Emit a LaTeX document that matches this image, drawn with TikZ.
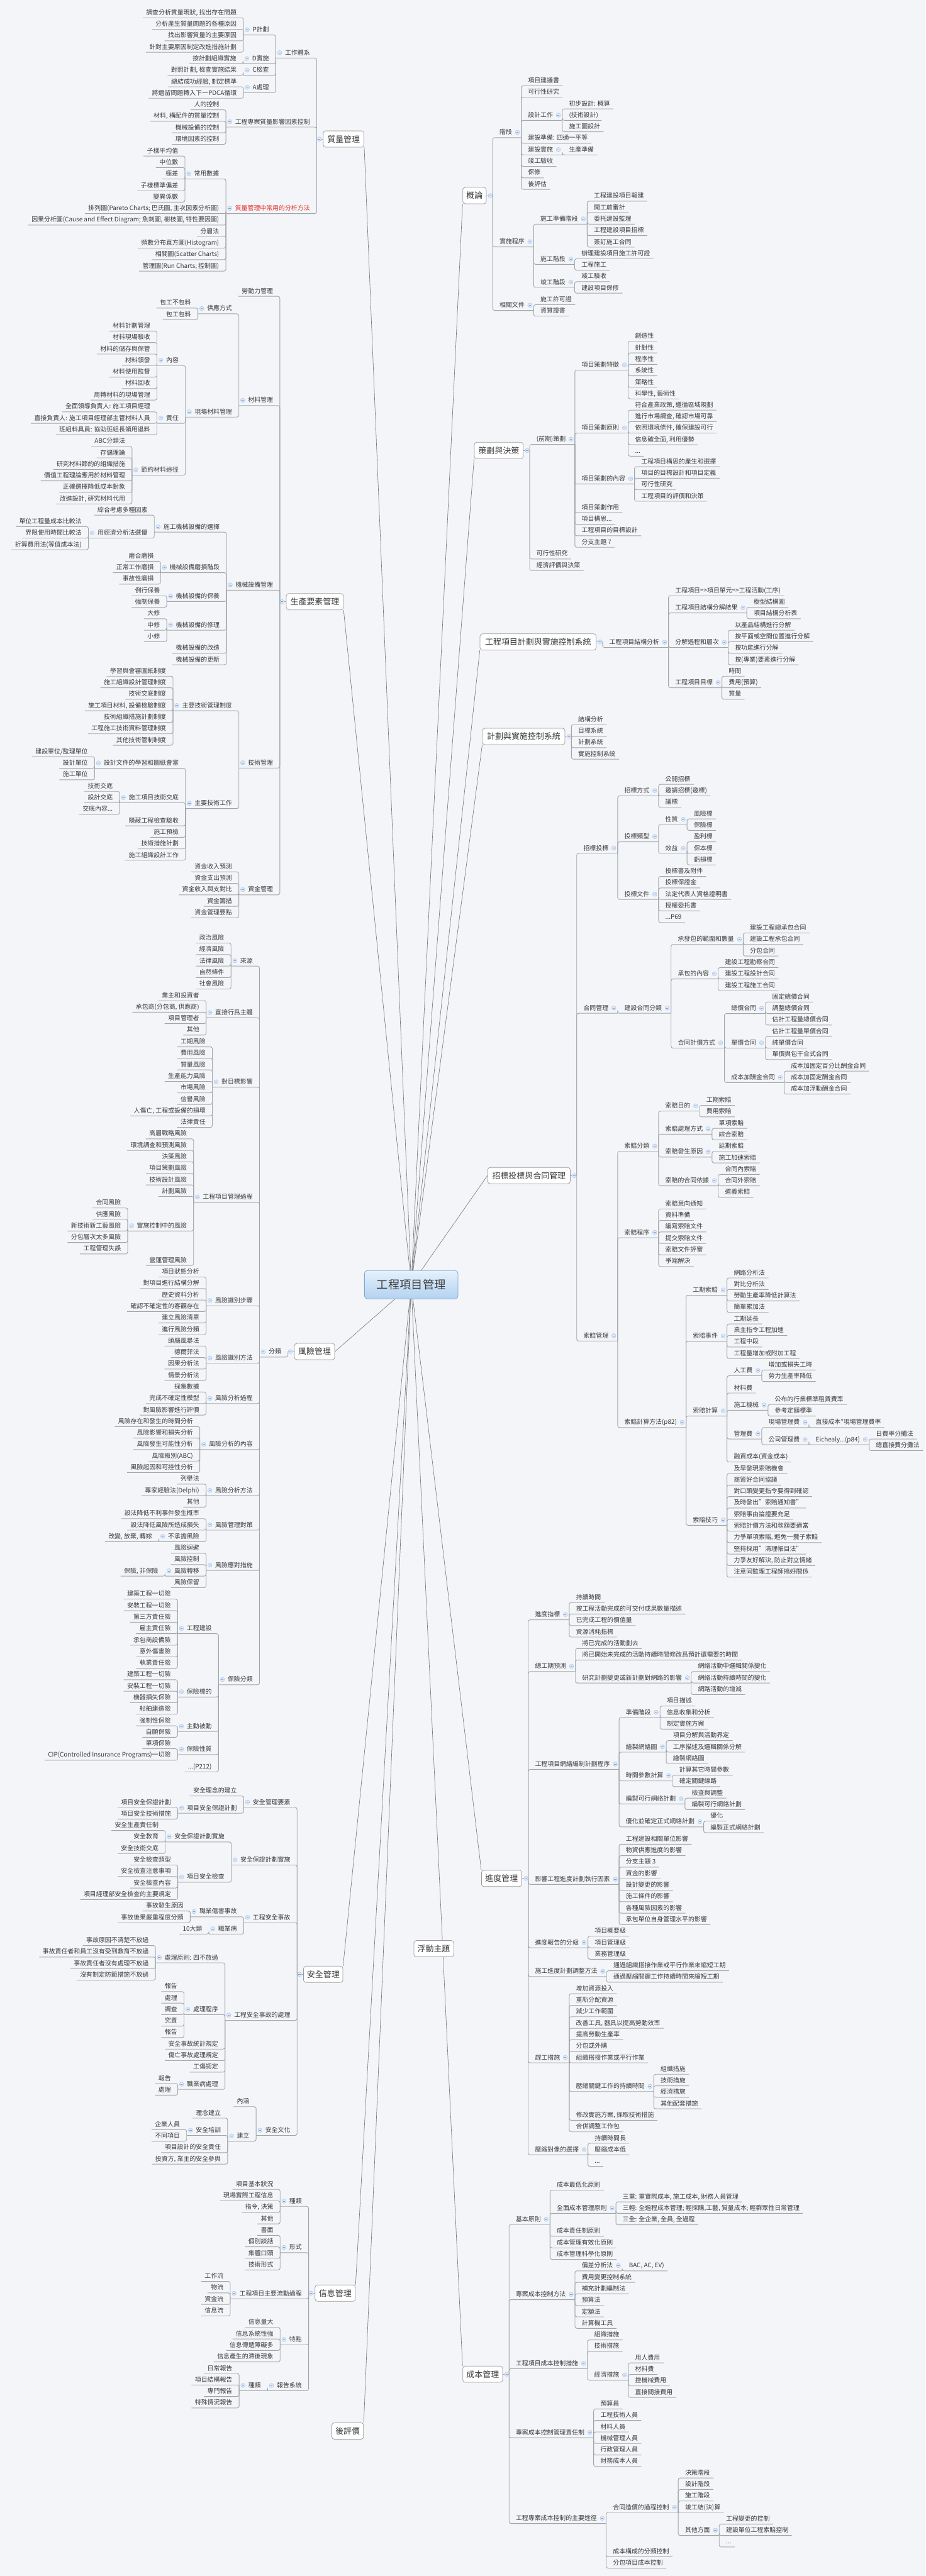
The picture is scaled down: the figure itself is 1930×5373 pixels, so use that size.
\documentclass[tikz,border=0pt]{standalone}
\usepackage{fontspec}
\setmainfont{Noto Sans CJK TC}
\definecolor{bgc}{HTML}{F3F5F8}
\definecolor{txc}{HTML}{3A3A3A}
\definecolor{lnc}{HTML}{A2A4A8}
\definecolor{mlc}{HTML}{7E7E7E}
\definecolor{boxd}{HTML}{9C9C9C}
\definecolor{togf}{HTML}{DCE9F7}
\definecolor{togd}{HTML}{A6C3E8}
\definecolor{redc}{HTML}{E8302C}
\definecolor{ctt}{HTML}{E6F1FC}
\definecolor{ctb}{HTML}{B3D2F0}
\definecolor{ctd}{HTML}{7AA6D6}
\newcounter{nd}
\newcommand\Ll[3]{\stepcounter{nd}\edef\mmnm{n\arabic{nd}}%
 \path (#1i |- 0,#2) ++(-14,0) node[tx,anchor=east] (\mmnm) {#3};%
 \draw[ln] (#1i) |- ([xshift=-7pt,yshift=-11pt]\mmnm.west);}
\newcommand\Lp[4]{\path (#2i |- 0,#3) ++(-14,0) node[tx,anchor=east] (#1) {#4};%
 \coordinate (#1i) at ([xshift=-19pt,yshift=-11pt]#1.west);%
 \draw[ln] (#2i) |- (#1i);%
 \node[tog] at ([xshift=-11pt]#1.west) {};}
\newcommand\Rl[3]{\stepcounter{nd}\edef\mmnm{n\arabic{nd}}%
 \path (#1i |- 0,#2) ++(14,0) node[tx,anchor=west] (\mmnm) {#3};%
 \draw[ln] (#1i) |- ([xshift=7pt,yshift=-11pt]\mmnm.east);}
\newcommand\Rp[4]{\path (#2i |- 0,#3) ++(14,0) node[tx,anchor=west] (#1) {#4};%
 \coordinate (#1i) at ([xshift=19pt,yshift=-11pt]#1.east);%
 \draw[ln] (#2i) |- (#1i);%
 \node[tog] at ([xshift=11pt]#1.east) {};}
\begin{document}
\begin{tikzpicture}[x=1pt,y=-1pt,
 tx/.style={font=\fontsize{13pt}{15pt}\selectfont, text=txc, inner sep=0pt, text height=11pt, text depth=2pt},
 ln/.style={draw=lnc, line width=1.2pt, rounded corners=4pt},
 mln/.style={draw=mlc, line width=0.9pt},
 tog/.style={circle, fill=togf, draw=togd, line width=0.6pt, minimum size=9pt, inner sep=0pt,
   path picture={\draw[togd!80!blue, line width=0.8pt] ([xshift=-2.3pt]path picture bounding box.center) -- ([xshift=2.3pt]path picture bounding box.center);}},
 box/.style={draw=boxd, fill=white, rounded corners=5pt, line width=1pt, minimum height=34pt, inner sep=0pt, font=\fontsize{17pt}{20pt}\selectfont, text=txc},
]
\fill[bgc] (0,0) rectangle (1930,5373);
\useasboundingbox (0,0) rectangle (1930,5373);
% ---------- main boxes
\node[draw=ctd, top color=ctt, bottom color=ctb, rounded corners=6pt, line width=1pt, minimum width=195pt, minimum height=59pt, inner sep=0pt, font=\fontsize{24pt}{28pt}\selectfont, text=txc] (CT) at (857.5,2679.5) {工程項目管理};
\node[box,minimum width=85pt] (QM) at (716.5,290) {質量管理};
\node[box,minimum width=119pt] (SC) at (656.5,1255) {生產要素管理};
\node[box,minimum width=84pt] (FX) at (656,2819) {風險管理};
\node[box,minimum width=82pt] (AQ) at (674,4118) {安全管理};
\node[box,minimum width=84pt] (XX) at (699,4783) {信息管理};
\node[box,minimum width=66pt] (HP) at (725,5070.5) {後評價};
\node[box,minimum width=49pt] (GL) at (989.5,408) {概論};
\node[box,minimum width=102pt] (CH) at (1040,939.5) {策劃與決策};
\node[box,minimum width=242pt] (JH) at (1122,1339) {工程項目計劃與實施控制系統};
\node[box,minimum width=172pt] (JS) at (1092,1536) {計劃與實施控制系統};
\node[box,minimum width=172pt] (ZB) at (1103,2452) {招標投標與合同管理};
\node[box,minimum width=84pt] (JD) at (1046,3918) {進度管理};
\node[box,minimum width=83pt] (CB) at (1006.5,4952) {成本管理};
% ---------- connections to centre
\draw[mln] (QM.south east) -- (CT);
\draw[mln] (SC.south east) -- (CT);
\draw[mln] (FX.east) -- (CT);
\draw[mln] (AQ.north east) -- (CT);
\draw[mln] (XX.north east) -- (CT);
\draw[mln] (HP.north east) -- (CT);
\draw[mln] (GL.south west) -- (CT);
\draw[mln] (CH.south west) -- (CT);
\draw[mln] (JH.south west) -- (CT);
\draw[mln] (JS.south west) -- (CT);
\draw[mln] (ZB.west) -- (CT);
\draw[mln] (JD.north west) -- (CT);
\draw[mln] (CB.north west) -- (CT);
\node[box,minimum width=83pt] (FD) at (904.5,4064.5) {浮動主題};
% ---------- box inner points
\foreach \b in {QM,SC,FX,AQ,XX}{\coordinate (\b i) at ([xshift=-13pt]\b.west); \draw[ln] (\b.west) -- (\b i); \node[tog] at ([xshift=-8pt]\b.west) {};}
\foreach \b in {GL,CH,JH,JS,ZB,JD,CB}{\coordinate (\b i) at ([xshift=13pt]\b.east); \draw[ln] (\b.east) -- (\b i); \node[tog] at ([xshift=8pt]\b.east) {};}
% ================= 質量管理
\Lp{q1}{QM}{110}{工作體系}
\Lp{q11}{q1}{62}{P計劃}
\Ll{q11}{26}{調查分析質量現狀, 找出存在問題}
\Ll{q11}{50}{分析產生質量問題的各種原因}
\Ll{q11}{74}{找出影響質量的主要原因}
\Ll{q11}{98}{針對主要原因制定改進措施計劃}
\Lp{q12}{q1}{122}{D實施}
\Ll{q12}{122}{按計劃組織實施}
\Lp{q13}{q1}{146}{C檢查}
\Ll{q13}{146}{對照計劃, 檢查實施結果}
\Lp{q14}{q1}{182}{A處理}
\Ll{q14}{170}{總結成功經驗, 制定標準}
\Ll{q14}{194}{將遺留問題轉入下一PDCA循環}
\Lp{q2}{QM}{254}{工程專案質量影響因素控制}
\Ll{q2}{218}{人的控制}
\Ll{q2}{242}{材料, 構配件的質量控制}
\Ll{q2}{266}{機械設備的控制}
\Ll{q2}{290}{環境因素的控制}
\Lp{q3}{QM}{434.5}{\textcolor{redc}{質量管理中常用的分析方法}}
\Lp{q31}{q3}{362.5}{常用數據}
\Ll{q31}{314.5}{子樣平均值}
\Ll{q31}{338.5}{中位數}
\Ll{q31}{362.5}{極差}
\Ll{q31}{386.5}{子樣標準偏差}
\Ll{q31}{410.5}{變異係數}
\Ll{q3}{434.5}{排列圖(Pareto Charts; 巴氏圖, 主次因素分析圖)}
\Ll{q3}{458.5}{因果分析圖(Cause and Effect Diagram; 魚刺圖, 樹枝圖, 特性要因圖)}
\Ll{q3}{482.5}{分層法}
\Ll{q3}{506.5}{頻數分布直方圖(Histogram)}
\Ll{q3}{530.5}{相關圖(Scatter Charts)}
\Ll{q3}{554.5}{管理圖(Run Charts; 控制圖)}
% ================= 生產要素管理
\Ll{SC}{607}{勞動力管理}
\Lp{s2}{SC}{835}{材料管理}
\Lp{s21}{s2}{643.5}{供應方式}
\Ll{s21}{631.5}{包工不包料}
\Ll{s21}{655.5}{包工包料}
\Lp{s22}{s2}{859}{現場材料管理}
\Lp{s221}{s22}{751.5}{內容}
\Ll{s221}{679.5}{材料計劃管理}
\Ll{s221}{703.5}{材料現場驗收}
\Ll{s221}{727.5}{材料的儲存與保管}
\Ll{s221}{751.5}{材料領發}
\Ll{s221}{775.5}{材料使用監督}
\Ll{s221}{799.5}{材料回收}
\Ll{s221}{823.5}{周轉材料的現場管理}
\Lp{s222}{s22}{872}{責任}
\Ll{s222}{848}{全面領導負責人: 施工項目經理}
\Ll{s222}{872}{直接負責人: 施工項目經理部主管材料人員}
\Ll{s222}{896}{班組料具員: 協助班組長領用退料}
\Lp{s223}{s22}{980}{節約材料途徑}
\Ll{s223}{920}{ABC分類法}
\Ll{s223}{944}{存儲理論}
\Ll{s223}{968}{研究材料節約的組織措施}
\Ll{s223}{992}{價值工程理論應用於材料管理}
\Ll{s223}{1016}{正確選擇降低成本對象}
\Ll{s223}{1040}{改進設計, 研究材料代用}
\Lp{s3}{SC}{1220}{機械設備管理}
\Lp{s31}{s3}{1099}{施工機械設備的選擇}
\Ll{s31}{1063.5}{綜合考慮多種因素}
\Lp{s312}{s31}{1111.5}{用經濟分析法選優}
\Ll{s312}{1087.5}{單位工程量成本比較法}
\Ll{s312}{1111.5}{界限使用時間比較法}
\Ll{s312}{1135.5}{折算費用法(等值成本法)}
\Lp{s32}{s3}{1183.5}{機械設備磨損階段}
\Ll{s32}{1159.5}{磨合磨損}
\Ll{s32}{1183.5}{正常工作磨損}
\Ll{s32}{1207.5}{事故性磨損}
\Lp{s33}{s3}{1243.5}{機械設備的保養}
\Ll{s33}{1231.5}{例行保養}
\Ll{s33}{1255.5}{強制保養}
\Lp{s34}{s3}{1303.5}{機械設備的修理}
\Ll{s34}{1279.5}{大修}
\Ll{s34}{1303.5}{中修}
\Ll{s34}{1327.5}{小修}
\Ll{s3}{1351.5}{機械設備的改造}
\Ll{s3}{1375.5}{機械設備的更新}
\Lp{s4}{SC}{1591}{技術管理}
\Lp{s41}{s4}{1471.5}{主要技術管理制度}
\Ll{s41}{1399.5}{學習與會審圖紙制度}
\Ll{s41}{1423.5}{施工組織設計管理制度}
\Ll{s41}{1447.5}{技術交底制度}
\Ll{s41}{1471.5}{施工項目材料, 設備檢驗制度}
\Ll{s41}{1495.5}{技術組織措施計劃制度}
\Ll{s41}{1519.5}{工程施工技術資料管理制度}
\Ll{s41}{1543.5}{其他技術管制制度}
\Lp{s42}{s4}{1675.5}{主要技術工作}
\Lp{s421}{s42}{1591.5}{設計文件的學習和圖紙會審}
\Ll{s421}{1567.5}{建設單位/監理單位}
\Ll{s421}{1591.5}{設計單位}
\Ll{s421}{1615.5}{施工單位}
\Lp{s422}{s42}{1663.5}{施工項目技術交底}
\Ll{s422}{1639.5}{技術交底}
\Ll{s422}{1663.5}{設計交底}
\Ll{s422}{1687.5}{交底內容...}
\Ll{s42}{1711.5}{隱蔽工程檢查驗收}
\Ll{s42}{1735.5}{施工預檢}
\Ll{s42}{1759.5}{技術措施計劃}
\Ll{s42}{1783.5}{施工組織設計工作}
\Lp{s5}{SC}{1855.5}{資金管理}
\Ll{s5}{1807.5}{資金收入預測}
\Ll{s5}{1831.5}{資金支出預測}
\Ll{s5}{1855.5}{資金收入與支對比}
\Ll{s5}{1879.5}{資金籌措}
\Ll{s5}{1903.5}{資金管理要點}
% ================= 風險管理
\Lp{f1}{FX}{2819.5}{分類}
\Lp{f11}{f1}{2004}{來源}
\Ll{f11}{1956}{政治風險}
\Ll{f11}{1980}{經濟風險}
\Ll{f11}{2004}{法律風險}
\Ll{f11}{2028}{自然條件}
\Ll{f11}{2052}{社會風險}
\Lp{f12}{f1}{2112}{直接行爲主體}
\Ll{f12}{2076}{業主和投資者}
\Ll{f12}{2100}{承包商(分包商, 供應商)}
\Ll{f12}{2124}{項目管理者}
\Ll{f12}{2148}{其他}
\Lp{f13}{f1}{2256.5}{對目標影響}
\Ll{f13}{2172.5}{工期風險}
\Ll{f13}{2196.5}{費用風險}
\Ll{f13}{2220.5}{質量風險}
\Ll{f13}{2244.5}{生產能力風險}
\Ll{f13}{2268.5}{市場風險}
\Ll{f13}{2292.5}{信譽風險}
\Ll{f13}{2316.5}{人傷亡, 工程或設備的損壞}
\Ll{f13}{2340.5}{法律責任}
\Lp{f14}{f1}{2496.5}{工程項目管理過程}
\Ll{f14}{2364.5}{高層戰略風險}
\Ll{f14}{2388.5}{環境調查和預測風險}
\Ll{f14}{2412.5}{決策風險}
\Ll{f14}{2436.5}{項目策劃風險}
\Ll{f14}{2460.5}{技術設計風險}
\Ll{f14}{2484.5}{計劃風險}
\Lp{f147}{f14}{2556.5}{實施控制中的風險}
\Ll{f147}{2508.5}{合同風險}
\Ll{f147}{2532.5}{供應風險}
\Ll{f147}{2556.5}{新技術新工藝風險}
\Ll{f147}{2580.5}{分包層次太多風險}
\Ll{f147}{2604.5}{工程管理失誤}
\Ll{f14}{2628.5}{營運管理風險}
\Lp{f15}{f1}{2712.5}{風險識別步驟}
\Ll{f15}{2652.5}{項目狀態分析}
\Ll{f15}{2676.5}{對項目進行結構分解}
\Ll{f15}{2700.5}{歷史資料分析}
\Ll{f15}{2724.5}{確認不確定性的客觀存在}
\Ll{f15}{2748.5}{建立風險清單}
\Ll{f15}{2772.5}{進行風險分類}
\Lp{f16}{f1}{2832.5}{風險識別方法}
\Ll{f16}{2796.5}{頭腦風暴法}
\Ll{f16}{2820.5}{德爾菲法}
\Ll{f16}{2844.5}{因果分析法}
\Ll{f16}{2868.5}{情景分析法}
\Lp{f17}{f1}{2916.5}{風險分析過程}
\Ll{f17}{2892.5}{採集數據}
\Ll{f17}{2916.5}{完成不確定性模型}
\Ll{f17}{2940.5}{對風險影響進行評價}
\Lp{f18}{f1}{3012.5}{風險分析的內容}
\Ll{f18}{2964.5}{風險存在和發生的時間分析}
\Ll{f18}{2988.5}{風險影響和損失分析}
\Ll{f18}{3012.5}{風險發生可能性分析}
\Ll{f18}{3036.5}{風險級別(ABC)}
\Ll{f18}{3060.5}{風險起因和可控性分析}
\Lp{f19}{f1}{3108.5}{風險分析方法}
\Ll{f19}{3084.5}{列舉法}
\Ll{f19}{3108.5}{專家經驗法(Delphi)}
\Ll{f19}{3132.5}{其他}
\Lp{f1a}{f1}{3180.5}{風險管理對策}
\Ll{f1a}{3156.5}{設法降低不利事件發生概率}
\Ll{f1a}{3180.5}{設法降低風險所造成損失}
\Lp{f1a3}{f1a}{3204.5}{不承擔風險}
\Ll{f1a3}{3204.5}{改變, 放棄, 轉嫁}
\Lp{f1b}{f1}{3264.5}{風險應對措施}
\Ll{f1b}{3228.5}{風險迴避}
\Ll{f1b}{3252.5}{風險控制}
\Lp{f1b3}{f1b}{3276.5}{風險轉移}
\Ll{f1b3}{3276.5}{保險, 非保險}
\Ll{f1b}{3300.5}{風險保留}
\Lp{f1c}{f1}{3503}{保險分類}
\Lp{f1c1}{f1c}{3396.5}{工程建設}
\Ll{f1c1}{3324.5}{建築工程一切險}
\Ll{f1c1}{3348.5}{安裝工程一切險}
\Ll{f1c1}{3372.5}{第三方責任險}
\Ll{f1c1}{3396.5}{雇主責任險}
\Ll{f1c1}{3420.5}{承包商設備險}
\Ll{f1c1}{3444.5}{意外傷害險}
\Ll{f1c1}{3468.5}{執業責任險}
\Lp{f1c2}{f1c}{3528.5}{保險標的}
\Ll{f1c2}{3492.5}{建築工程一切險}
\Ll{f1c2}{3516.5}{安裝工程一切險}
\Ll{f1c2}{3540.5}{機器損失保險}
\Ll{f1c2}{3564.5}{船舶建造險}
\Lp{f1c3}{f1c}{3600.5}{主動被動}
\Ll{f1c3}{3588.5}{強制性保險}
\Ll{f1c3}{3612.5}{自願保險}
\Lp{f1c4}{f1c}{3648.5}{保險性質}
\Ll{f1c4}{3636.5}{單項保險}
\Ll{f1c4}{3660.5}{CIP(Controlled Insurance Programs)一切險}
\Ll{f1c}{3684.5}{...(P212)}
% ================= 安全管理
\Lp{a1}{AQ}{3759}{安全管理要素}
\Ll{a1}{3735}{安全理念的建立}
\Lp{a12}{a1}{3771}{項目安全保證計劃}
\Ll{a12}{3759}{項目安全保證計劃}
\Ll{a12}{3783}{項目安全技術措施}
\Lp{a2}{AQ}{3879}{安全保證計劃實施}
\Lp{a21}{a2}{3831}{安全保證計劃實施}
\Ll{a21}{3807}{安全生產責任制}
\Ll{a21}{3831}{安全教育}
\Ll{a21}{3855}{安全技術交底}
\Lp{a22}{a2}{3915}{項目安全檢查}
\Ll{a22}{3879}{安全檢查類型}
\Ll{a22}{3903}{安全檢查注意事項}
\Ll{a22}{3927}{安全檢查內容}
\Ll{a22}{3951}{項目經理部安全檢查的主要規定}
\Lp{a3}{AQ}{3999}{工程安全事故}
\Lp{a31}{a3}{3987}{職業傷害事故}
\Ll{a31}{3975}{事故發生原因}
\Ll{a31}{3999}{事故後果嚴重程度分類}
\Lp{a32}{a3}{4023}{職業病}
\Ll{a32}{4023}{10大類}
\Lp{a4}{AQ}{4203}{工程安全事故的處理}
\Lp{a41}{a4}{4083}{處理原則: 四不放過}
\Ll{a41}{4047}{事故原因不清楚不放過}
\Ll{a41}{4071}{事故責任者和員工沒有受到教育不放過}
\Ll{a41}{4095}{事故責任者沒有處理不放過}
\Ll{a41}{4119}{沒有制定防範措施不放過}
\Lp{a42}{a4}{4191}{處理程序}
\Ll{a42}{4143}{報告}
\Ll{a42}{4167}{處理}
\Ll{a42}{4191}{調查}
\Ll{a42}{4215}{究責}
\Ll{a42}{4239}{報告}
\Ll{a4}{4263}{安全事故統計規定}
\Ll{a4}{4287}{傷亡事故處理規定}
\Ll{a4}{4311}{工傷認定}
\Lp{a46}{a4}{4347}{職業病處理}
\Ll{a46}{4335}{報告}
\Ll{a46}{4359}{處理}
\Lp{a5}{AQ}{4443}{安全文化}
\Ll{a5}{4383}{內涵}
\Lp{a52}{a5}{4455}{建立}
\Ll{a52}{4407}{理念建立}
\Lp{a522}{a52}{4443}{安全培訓}
\Ll{a522}{4431}{企業人員}
\Ll{a522}{4455}{不同項目}
\Ll{a52}{4479}{項目設計的安全責任}
\Ll{a52}{4503}{投資方, 業主的安全參與}
% ================= 信息管理
\Lp{x1}{XX}{4591}{種類}
\Ll{x1}{4555.5}{項目基本狀況}
\Ll{x1}{4579.5}{現場實際工程信息}
\Ll{x1}{4603.5}{指令, 決策}
\Ll{x1}{4627.5}{其他}
\Lp{x2}{XX}{4687.5}{形式}
\Ll{x2}{4651.5}{書面}
\Ll{x2}{4675.5}{個別談話}
\Ll{x2}{4699.5}{集體口頭}
\Ll{x2}{4723.5}{技術形式}
\Lp{x3}{XX}{4783.5}{工程項目主要流動過程}
\Ll{x3}{4747.5}{工作流}
\Ll{x3}{4771.5}{物流}
\Ll{x3}{4795.5}{資金流}
\Ll{x3}{4819.5}{信息流}
\Lp{x4}{XX}{4879.5}{特點}
\Ll{x4}{4843.5}{信息量大}
\Ll{x4}{4867.5}{信息系統性強}
\Ll{x4}{4891.5}{信息傳遞障礙多}
\Ll{x4}{4915.5}{信息產生的滯後現象}
\Lp{x5}{XX}{4975.5}{報告系統}
\Lp{x51}{x5}{4975.5}{種類}
\Ll{x51}{4939.5}{日常報告}
\Ll{x51}{4963.5}{項目結構報告}
\Ll{x51}{4987.5}{專門報告}
\Ll{x51}{5011.5}{特殊情況報告}
% ================= 概論
\Rp{g1}{GL}{276}{階段}
\Rl{g1}{168}{項目建議書}
\Rl{g1}{192}{可行性研究}
\Rp{g13}{g1}{240}{設計工作}
\Rl{g13}{216}{初步設計: 概算}
\Rl{g13}{240}{(技術設計)}
\Rl{g13}{264}{施工圖設計}
\Rl{g1}{288}{建設準備: 四通一平等}
\Rp{g15}{g1}{312}{建設實施}
\Rl{g15}{312}{生產準備}
\Rl{g1}{336}{竣工驗收}
\Rl{g1}{360}{保修}
\Rl{g1}{384}{後評估}
\Rp{g2}{GL}{504}{實施程序}
\Rp{g21}{g2}{456.5}{施工準備階段}
\Rl{g21}{408.5}{工程建設項目報建}
\Rl{g21}{432.5}{開工前審計}
\Rl{g21}{456.5}{委托建設監理}
\Rl{g21}{480.5}{工程建設項目招標}
\Rl{g21}{504.5}{簽訂施工合同}
\Rp{g22}{g2}{540.5}{施工階段}
\Rl{g22}{528.5}{辦理建設項目施工許可證}
\Rl{g22}{552.5}{工程施工}
\Rp{g23}{g2}{588.5}{竣工階段}
\Rl{g23}{576.5}{竣工驗收}
\Rl{g23}{600.5}{建設項目保修}
\Rp{g3}{GL}{636.5}{相關文件}
\Rl{g3}{624.5}{施工許可證}
\Rl{g3}{648.5}{資質證書}
% ================= 策劃與決策
\Rp{c1}{CH}{916}{(前期)策劃}
\Rp{c11}{c1}{761}{項目策劃特徵}
\Rl{c11}{701}{創造性}
\Rl{c11}{725}{針對性}
\Rl{c11}{749}{程序性}
\Rl{c11}{773}{系統性}
\Rl{c11}{797}{策略性}
\Rl{c11}{821}{科學性, 藝術性}
\Rp{c12}{c1}{892.5}{項目策劃原則}
\Rl{c12}{844.5}{符合產業政策, 遵循區域規劃}
\Rl{c12}{868.5}{進行市場調查, 確認市場可靠}
\Rl{c12}{892.5}{依照環境條件, 確保建設可行}
\Rl{c12}{916.5}{信息確全面, 利用優勢}
\Rl{c12}{940.5}{...}
\Rp{c13}{c1}{998.5}{項目策劃的內容}
\Rl{c13}{962.5}{工程項目構思的產生和選擇}
\Rl{c13}{986.5}{項目的目標設計和項目定義}
\Rl{c13}{1010.5}{可行性研究}
\Rl{c13}{1034.5}{工程項目的評價和決策}
\Rl{c1}{1058.5}{項目策劃作用}
\Rl{c1}{1082.5}{項目構思...}
\Rl{c1}{1106.5}{工程項目的目標設計}
\Rl{c1}{1130.5}{分支主題 7}
\Rl{CH}{1155}{可行性研究}
\Rl{CH}{1179}{經濟評價與決策}
% ================= 工程項目計劃與實施控制系統
\Rp{h1}{JH}{1339.5}{工程項目結構分析}
\Rl{h1}{1231.5}{工程項目=>項目單元=>工程活動(工序)}
\Rp{h12}{h1}{1267.5}{工程項目結構分解結果}
\Rl{h12}{1255.5}{樹型結構圖}
\Rl{h12}{1279.5}{項目結構分析表}
\Rp{h13}{h1}{1339.5}{分解過程和層次}
\Rl{h13}{1303.5}{以產品結構進行分解}
\Rl{h13}{1327.5}{按平面或空間位置進行分解}
\Rl{h13}{1351.5}{按功能進行分解}
\Rl{h13}{1375.5}{按(專業)要素進行分解}
\Rp{h14}{h1}{1423.5}{工程項目目標}
\Rl{h14}{1399.5}{時間}
\Rl{h14}{1423.5}{費用(預算)}
\Rl{h14}{1447.5}{質量}
% ================= 計劃與實施控制系統
\Rl{JS}{1500.5}{結構分析}
\Rl{JS}{1524.5}{目標系統}
\Rl{JS}{1548.5}{計劃系統}
\Rl{JS}{1572.5}{實施控制系統}
% ================= 招標投標與合同管理
\Rp{z1}{ZB}{1769}{招標投標}
\Rp{z11}{z1}{1649}{招標方式}
\Rl{z11}{1625}{公開招標}
\Rl{z11}{1649}{邀請招標(邀標)}
\Rl{z11}{1673}{議標}
\Rp{z12}{z1}{1745}{投標類型}
\Rp{z121}{z12}{1709}{性質}
\Rl{z121}{1697}{風險標}
\Rl{z121}{1721}{保險標}
\Rp{z122}{z12}{1769}{效益}
\Rl{z122}{1745}{盈利標}
\Rl{z122}{1769}{保本標}
\Rl{z122}{1793}{虧損標}
\Rp{z13}{z1}{1865}{投標文件}
\Rl{z13}{1817}{投標書及附件}
\Rl{z13}{1841}{投標保證金}
\Rl{z13}{1865}{法定代表人資格證明書}
\Rl{z13}{1889}{授權委托書}
\Rl{z13}{1913}{...P69}
\Rp{z2}{ZB}{2102.5}{合同管理}
\Rp{z21}{z2}{2102.5}{建設合同分類}
\Rp{z211}{z21}{1959}{承發包的範圍和數量}
\Rl{z211}{1935}{建設工程總承包合同}
\Rl{z211}{1959}{建設工程承包合同}
\Rl{z211}{1983}{分包合同}
\Rp{z212}{z21}{2031}{承包的內容}
\Rl{z212}{2007}{建設工程勘察合同}
\Rl{z212}{2031}{建設工程設計合同}
\Rl{z212}{2055}{建設工程施工合同}
\Rp{z213}{z21}{2175}{合同計價方式}
\Rp{z2131}{z213}{2103}{總價合同}
\Rl{z2131}{2079}{固定總價合同}
\Rl{z2131}{2103}{調整總價合同}
\Rl{z2131}{2127}{估計工程量總價合同}
\Rp{z2132}{z213}{2175}{單價合同}
\Rl{z2132}{2151}{估計工程量單價合同}
\Rl{z2132}{2175}{純單價合同}
\Rl{z2132}{2199}{單價與包干合式合同}
\Rp{z2133}{z213}{2247}{成本加酬金合同}
\Rl{z2133}{2223}{成本加固定百分比酬金合同}
\Rl{z2133}{2247}{成本加固定酬金合同}
\Rl{z2133}{2271}{成本加浮動酬金合同}
\Rp{z3}{ZB}{2786}{索賠管理}
\Rp{z31}{z3}{2390.5}{索賠分類}
\Rp{z311}{z31}{2306.5}{索賠目的}
\Rl{z311}{2294.5}{工期索賠}
\Rl{z311}{2318.5}{費用索賠}
\Rp{z312}{z31}{2354.5}{索賠處理方式}
\Rl{z312}{2342.5}{單項索賠}
\Rl{z312}{2366.5}{綜合索賠}
\Rp{z313}{z31}{2402.5}{索賠發生原因}
\Rl{z313}{2390.5}{延期索賠}
\Rl{z313}{2414.5}{施工加速索賠}
\Rp{z314}{z31}{2462.5}{索賠的合同依據}
\Rl{z314}{2438.5}{合同內索賠}
\Rl{z314}{2462.5}{合同外索賠}
\Rl{z314}{2486.5}{道義索賠}
\Rp{z32}{z3}{2570.5}{索賠程序}
\Rl{z32}{2510.5}{索賠意向通知}
\Rl{z32}{2534.5}{資料準備}
\Rl{z32}{2558.5}{編寫索賠文件}
\Rl{z32}{2582.5}{提交索賠文件}
\Rl{z32}{2606.5}{索賠文件評審}
\Rl{z32}{2630.5}{爭端解決}
\Rp{z33}{z3}{2966.5}{索賠計算方法(p82)}
\Rp{z331}{z33}{2690.5}{工期索賠}
\Rl{z331}{2654.5}{網路分析法}
\Rl{z331}{2678.5}{對比分析法}
\Rl{z331}{2702.5}{勞動生產率降低計算法}
\Rl{z331}{2726.5}{簡單累加法}
\Rp{z332}{z33}{2786.5}{索賠事件}
\Rl{z332}{2750.5}{工期延長}
\Rl{z332}{2774.5}{業主指令工程加速}
\Rl{z332}{2798.5}{工程中段}
\Rl{z332}{2822.5}{工程量增加或附加工程}
\Rp{z333}{z33}{2942.5}{索賠計算}
\Rp{z3331}{z333}{2858.5}{人工費}
\Rl{z3331}{2846.5}{增加或損失工時}
\Rl{z3331}{2870.5}{勞力生產率降低}
\Rl{z333}{2894.5}{材料費}
\Rp{z3333}{z333}{2930.5}{施工機械}
\Rl{z3333}{2918.5}{公布的行業標準租賃費率}
\Rl{z3333}{2942.5}{參考定額標準}
\Rp{z3334}{z333}{2990.5}{管理費}
\Rp{z33341}{z3334}{2966.5}{現場管理費}
\Rl{z33341}{2966.5}{直接成本*現場管理費率}
\Rp{z33342}{z3334}{3002.5}{公司管理費}
\Rp{z333421}{z33342}{3002.5}{Eichealy...(p84)}
\Rl{z333421}{2990.5}{日費率分攤法}
\Rl{z333421}{3014.5}{總直接費分攤法}
\Rl{z333}{3038.5}{融資成本(資金成本)}
\Rp{z334}{z33}{3170.5}{索賠技巧}
\Rl{z334}{3062.5}{及早發現索賠機會}
\Rl{z334}{3086.5}{商簽好合同協議}
\Rl{z334}{3110.5}{對口頭變更指令要得到確認}
\Rl{z334}{3134.5}{及時發出"索賠通知書"}
\Rl{z334}{3158.5}{索賠事由論證要充足}
\Rl{z334}{3182.5}{索賠計價方法和款額要適當}
\Rl{z334}{3206.5}{力爭單項索賠, 避免一攬子索賠}
\Rl{z334}{3230.5}{堅持採用"清理帳目法"}
\Rl{z334}{3254.5}{力爭友好解決, 防止對立情緒}
\Rl{z334}{3278.5}{注意同監理工程師搞好關係}
% ================= 進度管理
\Rp{d1}{JD}{3367.5}{進度指標}
\Rl{d1}{3331.5}{持續時間}
\Rl{d1}{3355.5}{按工程活動完成的可交付成果數量描述}
\Rl{d1}{3379.5}{已完成工程的價值量}
\Rl{d1}{3403.5}{資源消耗指標}
\Rp{d2}{JD}{3475.5}{總工期預測}
\Rl{d2}{3427.5}{將已完成的活動劃去}
\Rl{d2}{3451.5}{將已開始未完成的活動持續時間修改爲預計還需要的時間}
\Rp{d23}{d2}{3499.5}{研究計劃變更或新計劃對網路的影響}
\Rl{d23}{3475.5}{網絡活動中邏輯關係變化}
\Rl{d23}{3499.5}{網絡活動持續時間的變化}
\Rl{d23}{3523.5}{網路活動的增減}
\Rp{d3}{JD}{3679.5}{工程項目網絡編制計劃程序}
\Rp{d31}{d3}{3571.5}{準備階段}
\Rl{d31}{3547.5}{項目描述}
\Rl{d31}{3571.5}{信息收集和分析}
\Rl{d31}{3595.5}{制定實施方案}
\Rp{d32}{d3}{3643.5}{繪製網絡圖}
\Rl{d32}{3619.5}{項目分解與活動界定}
\Rl{d32}{3643.5}{工序描述及邏輯關係分解}
\Rl{d32}{3667.5}{繪製網絡圖}
\Rp{d33}{d3}{3703.5}{時間參數計算}
\Rl{d33}{3691.5}{計算其它時間參數}
\Rl{d33}{3715.5}{確定關鍵線路}
\Rp{d34}{d3}{3751.5}{編製可行網絡計劃}
\Rl{d34}{3739.5}{檢查與調整}
\Rl{d34}{3763.5}{編製可行網絡計劃}
\Rp{d35}{d3}{3799.5}{優化並確定正式網絡計劃}
\Rl{d35}{3787.5}{優化}
\Rl{d35}{3811.5}{編製正式網絡計劃}
\Rp{d4}{JD}{3919.5}{影響工程進度計劃執行因素}
\Rl{d4}{3835.5}{工程建設相關單位影響}
\Rl{d4}{3859.5}{物資供應進度的影響}
\Rl{d4}{3883.5}{分支主題 3}
\Rl{d4}{3907.5}{資金的影響}
\Rl{d4}{3931.5}{設計變更的影響}
\Rl{d4}{3955.5}{施工條件的影響}
\Rl{d4}{3979.5}{各種風險因素的影響}
\Rl{d4}{4003.5}{承包單位自身管理水平的影響}
\Rp{d5}{JD}{4051.5}{進度報告的分級}
\Rl{d5}{4027.5}{項目概要級}
\Rl{d5}{4051.5}{項目管理級}
\Rl{d5}{4075.5}{業務管理級}
\Rp{d6}{JD}{4111.5}{施工進度計劃調整方法}
\Rl{d6}{4099.5}{通過組織搭接作業或平行作業來縮短工期}
\Rl{d6}{4123.5}{通過壓縮關鍵工作持續時間來縮短工期}
\Rp{d7}{JD}{4291.5}{趕工措施}
\Rl{d7}{4147.5}{增加資源投入}
\Rl{d7}{4171.5}{重新分配資源}
\Rl{d7}{4195.5}{減少工作範圍}
\Rl{d7}{4219.5}{改善工具, 器具以提高勞動效率}
\Rl{d7}{4243.5}{提高勞動生產率}
\Rl{d7}{4267.5}{分包或外購}
\Rl{d7}{4291.5}{組織搭接作業或平行作業}
\Rp{d78}{d7}{4351.5}{壓縮關鍵工作的持續時間}
\Rl{d78}{4315.5}{組織措施}
\Rl{d78}{4339.5}{技術措施}
\Rl{d78}{4363.5}{經濟措施}
\Rl{d78}{4387.5}{其他配套措施}
\Rl{d7}{4411.5}{修改實施方案, 採取技術措施}
\Rl{d7}{4435.5}{合併調整工作包}
\Rp{d8}{JD}{4483.5}{壓縮對像的選擇}
\Rl{d8}{4459.5}{持續時間長}
\Rl{d8}{4483.5}{壓縮成本低}
\Rl{d8}{4507.5}{...}
% ================= 成本管理
\Rp{b1}{CB}{4629}{基本原則}
\Rl{b1}{4557.5}{成本最低化原則}
\Rp{b12}{b1}{4605.5}{全面成本管理原則}
\Rl{b12}{4581.5}{三重: 重實際成本, 施工成本, 財務人員管理}
\Rl{b12}{4605.5}{三輕: 全過程成本管理; 輕採購,工藝, 質量成本; 輕群眾性日常管理}
\Rl{b12}{4629.5}{三全: 全企業, 全員, 全過程}
\Rl{b1}{4653.5}{成本責任制原則}
\Rl{b1}{4677.5}{成本管理有效化原則}
\Rl{b1}{4701.5}{成本管理科學化原則}
\Rp{b2}{CB}{4785.5}{專案成本控制方法}
\Rp{b21}{b2}{4725.5}{偏差分析法}
\Rl{b21}{4725.5}{BAC, AC, EV)}
\Rl{b2}{4749.5}{費用變更控制系統}
\Rl{b2}{4773.5}{補充計劃編制法}
\Rl{b2}{4797.5}{預算法}
\Rl{b2}{4821.5}{定額法}
\Rl{b2}{4845.5}{計算機工具}
\Rp{b3}{CB}{4929.5}{工程項目成本控制措施}
\Rl{b3}{4869.5}{組織措施}
\Rl{b3}{4893.5}{技術措施}
\Rp{b33}{b3}{4953.5}{經濟措施}
\Rl{b33}{4917.5}{用人費用}
\Rl{b33}{4941.5}{材料費}
\Rl{b33}{4965.5}{控機械費用}
\Rl{b33}{4989.5}{直接間接費用}
\Rp{b4}{CB}{5073.5}{專案成本控制管理責任制}
\Rl{b4}{5013.5}{預算員}
\Rl{b4}{5037.5}{工程技術人員}
\Rl{b4}{5061.5}{材料人員}
\Rl{b4}{5085.5}{機械管理人員}
\Rl{b4}{5109.5}{行政管理人員}
\Rl{b4}{5133.5}{財務成本人員}
\Rp{b5}{CB}{5252.5}{工程專案成本控制的主要途徑}
\Rp{b51}{b5}{5229.5}{合同造價的過程控制}
\Rl{b51}{5157.5}{決策階段}
\Rl{b51}{5181.5}{設計階段}
\Rl{b51}{5205.5}{施工階段}
\Rl{b51}{5229.5}{竣工結(決)算}
\Rp{b515}{b51}{5277.5}{其他方面}
\Rl{b515}{5253.5}{工程變更的控制}
\Rl{b515}{5277.5}{建設單位工程索賠控制}
\Rl{b515}{5301.5}{...}
\Rl{b5}{5321.5}{成本構成的分類控制}
\Rl{b5}{5345.5}{分包項目成本控制}
\end{tikzpicture}
\end{document}
